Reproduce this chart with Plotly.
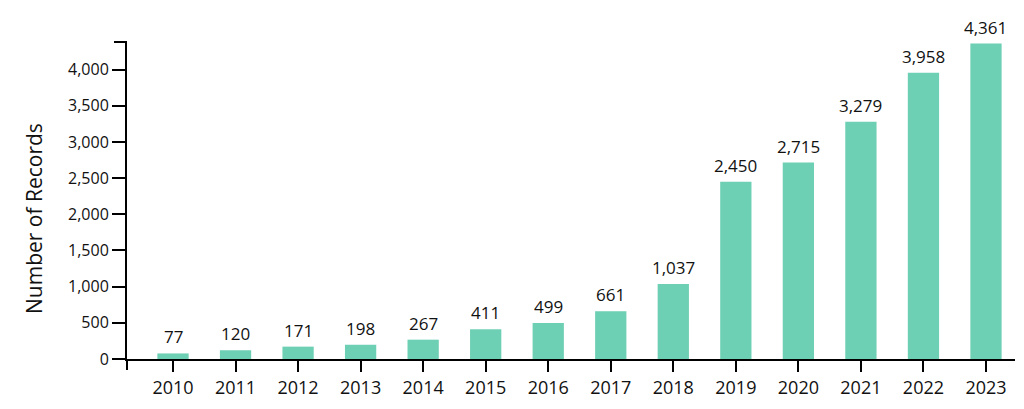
import plotly.graph_objects as go

years = ["2010", "2011", "2012", "2013", "2014", "2015", "2016",
         "2017", "2018", "2019", "2020", "2021", "2022", "2023"]
records = [77, 120, 171, 198, 267, 411, 499, 661, 1037, 2450, 2715, 3279, 3958, 4361]

BAR_COLOR = "#6dcfb3"
FONT = "Open Sans"

# page body has an 8px margin, so the figure is laid out 8px in from the top-left
OFF = 8
W, H = 1024 - OFF, 409 - OFF
ML, MR, MT, MB = 127 - OFF, 9, 42 - OFF, 50
PW, PH = W - ML - MR, H - MT - MB

fig = go.Figure()
fig.add_trace(go.Bar(
    x=years, y=records, width=0.5,
    marker=dict(color=BAR_COLOR, line=dict(width=0)),
    hoverinfo="x+y",
))

for i, v in enumerate(records):
    fig.add_annotation(
        x=i, y=v, text=f"{v:,}", showarrow=False,
        xanchor="center", yanchor="bottom", yshift=3,
        font=dict(family=FONT, size=17, color="#111111"),
    )

fig.add_annotation(
    xref="paper", yref="paper",
    x=(34 - 127) / PW, y=(359 - 219) / PH,
    text="Number of Records", textangle=-90, showarrow=False,
    xanchor="center", yanchor="middle",
    font=dict(family=FONT, size=21, color="#111111"),
)

# outer ticks (d3-style) at axis ends
fig.add_shape(type="line", xref="paper", yref="paper",
              x0=-13 / PW, x1=0, y0=1, y1=1,
              line=dict(color="black", width=2))
fig.add_shape(type="line", xref="paper", yref="paper",
              x0=0, x1=0, y0=-11 / PH, y1=0,
              line=dict(color="black", width=2))

fig.update_layout(
    width=W, height=H,
    margin=dict(l=ML, r=MR, t=MT, b=MB, pad=0),
    paper_bgcolor="white", plot_bgcolor="white",
    showlegend=False,
    font=dict(family=FONT, color="#111111"),
    xaxis=dict(
        type="category", range=[-0.7355, 13.464],
        showline=True, linecolor="black", linewidth=2,
        ticks="outside", ticklen=11, tickwidth=2, tickcolor="black",
        showgrid=False, zeroline=False,
        tickfont=dict(family=FONT, size=18, color="#111111"),
    ),
    yaxis=dict(
        range=[0, 4382], dtick=500, tick0=0, tickformat=",",
        showline=True, linecolor="black", linewidth=2,
        ticks="outside", ticklen=13, tickwidth=2, tickcolor="black",
        showgrid=False, zeroline=False,
        tickfont=dict(family=FONT, size=16, color="#111111"),
    ),
)

fig.write_html("out.html")
